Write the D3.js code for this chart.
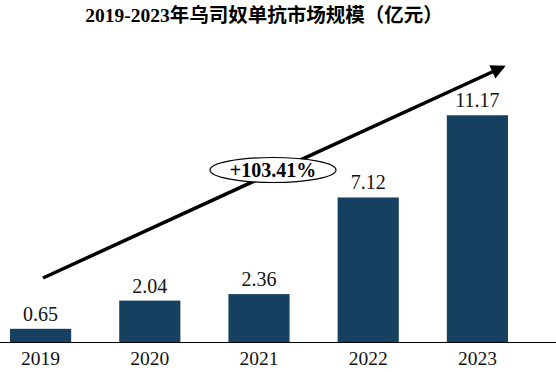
<!DOCTYPE html>
<html>
<head>
<meta charset="utf-8">
<script src="https://cdn.jsdelivr.net/npm/d3@7"></script>
<style>
  body { margin: 0; background: #fff; }
  svg { display: block; }
</style>
</head>
<body>
<svg id="chart"></svg>
<script>
const years = ["2019", "2020", "2021", "2022", "2023"];
const values = [0.65, 2.04, 2.36, 7.12, 11.17];
const growthLabel = "+103.41%";
const titleText = "2019-2023年乌司奴单抗市场规模（亿元）";

const width = 556, height = 372;
const baseline = 342;

const svg = d3.select("#chart")
              .attr("width", width)
              .attr("height", height);

let x = d3.scaleBand()
          .domain(years)
          .range([-14, 532])
          .paddingInner(0.44)
          .paddingOuter(0.22);

let y = d3.scaleLinear()
          .domain([0, 12])
          .range([baseline, 98.4]);

// Title
svg.append("text")
   .attr("x", 264)
   .attr("y", 22)
   .attr("text-anchor", "middle")
   .style("font-family", "'Liberation Serif', 'Noto Sans CJK SC', serif")
   .style("font-weight", "bold")
   .style("font-size", "19.5px")
   .text(titleText);

// Bars
svg.selectAll(".bar")
   .data(values)
   .enter().append("rect")
   .attr("class", "bar")
   .attr("x", (d, i) => x(years[i]))
   .attr("width", x.bandwidth())
   .attr("y", d => y(d))
   .attr("height", d => baseline - y(d))
   .style("fill", "#15405f");

// Value labels
svg.selectAll(".value")
   .data(values)
   .enter().append("text")
   .attr("class", "value")
   .attr("x", (d, i) => x(years[i]) + x.bandwidth() / 2)
   .attr("y", d => y(d) - 8)
   .attr("text-anchor", "middle")
   .style("font-family", "'Liberation Serif', serif")
   .style("font-size", "20px")
   .style("fill", "#111")
   .text(d => d.toFixed(2));

// x axis
const xAxis = d3.axisBottom(x).tickSize(0).tickPadding(9);
const gx = svg.append("g")
   .attr("transform", "translate(0," + baseline + ")")
   .call(xAxis);
gx.select(".domain").remove();
gx.selectAll("text")
  .style("font-family", "'Liberation Serif', serif")
  .style("font-size", "19.5px")
  .style("fill", "#111");
svg.append("line")
   .attr("x1", 0).attr("x2", width)
   .attr("y1", baseline + 0.5).attr("y2", baseline + 0.5)
   .style("stroke", "#000")
   .style("stroke-width", 1.2);

// Trend arrow
svg.append("defs").append("marker")
   .attr("id", "arrowhead")
   .attr("viewBox", "0 0 10 10")
   .attr("refX", 8).attr("refY", 5)
   .attr("markerWidth", 4.2).attr("markerHeight", 4.2)
   .attr("orient", "auto")
   .append("path")
   .attr("d", "M0,0 L10,5 L0,10 Z")
   .style("fill", "#000");

svg.append("line")
   .attr("x1", 43).attr("y1", 278)
   .attr("x2", 503).attr("y2", 67)
   .style("stroke", "#000")
   .style("stroke-width", 3.5)
   .attr("marker-end", "url(#arrowhead)");

// Growth ellipse
svg.append("ellipse")
   .attr("cx", 273).attr("cy", 170)
   .attr("rx", 63).attr("ry", 12.5)
   .style("fill", "#fff")
   .style("stroke", "#000")
   .style("stroke-width", 1.2);

svg.append("text")
   .attr("x", 273).attr("y", 177)
   .attr("text-anchor", "middle")
   .style("font-family", "'Liberation Serif', serif")
   .style("font-weight", "bold")
   .style("font-size", "20px")
   .text(growthLabel);
</script>
</body>
</html>
